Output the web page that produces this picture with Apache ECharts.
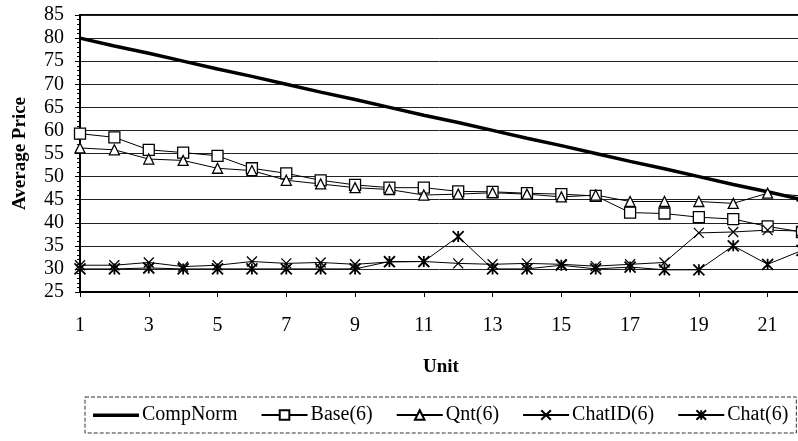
<!DOCTYPE html>
<html>
<head>
<meta charset="utf-8">
<script src="https://cdn.jsdelivr.net/npm/echarts@6/dist/echarts.min.js"></script>
<style>
html,body{margin:0;padding:0;background:#fff;}
#chart{width:798px;height:441px;}
</style>
</head>
<body>
<div id="chart"></div>
<script>
var units = ['1','2','3','4','5','6','7','8','9','10','11','12','13','14','15','16','17','18','19','20','21','22'];
var yTicks = [25, 85, 5]; // min, max, step
var compNorm = [80, 78.3, 76.7, 75, 73.3, 71.7, 70, 68.3, 66.7, 65, 63.3, 61.7, 60, 58.3, 56.7, 55, 53.3, 51.7, 50, 48.3, 46.7, 45];
var base6 = [59.3, 58.5, 55.8, 55.2, 54.5, 51.8, 50.7, 49.2, 48.2, 47.6, 47.6, 46.8, 46.7, 46.4, 46.2, 45.8, 42.2, 42, 41.2, 40.8, 39.2, 38];
var qnt6 = [56.2, 55.8, 53.8, 53.5, 51.8, 51.3, 49.2, 48.4, 47.6, 47.2, 46, 46.2, 46.5, 46.2, 45.6, 46, 44.6, 44.6, 44.6, 44.2, 46.4, 45.8];
var chatID6 = [30.8, 30.8, 31.4, 30.5, 30.8, 31.6, 31.2, 31.4, 31, 31.5, 31.6, 31.2, 31, 31.2, 31, 30.6, 31, 31.4, 37.8, 38, 38.4, 38.2];
var chat6 = [30, 30, 30.2, 30, 30, 30, 30, 30, 30, 31.6, 31.6, 37, 30, 30, 30.8, 30, 30.4, 29.8, 29.8, 35, 31, 34];
var seriesNames = ['CompNorm', 'Base(6)', 'Qnt(6)', 'ChatID(6)', 'Chat(6)'];

var FONT = "'Liberation Serif', 'Times New Roman', serif";
var chart = echarts.init(document.getElementById('chart'));

function markerSeries(name, data, symbol, size, bw) {
  return {
    name: name, type: 'line', data: data,
    symbol: symbol, symbolSize: size, showSymbol: true,
    lineStyle: { color: '#000', width: 1 },
    itemStyle: { color: '#fff', borderColor: '#000', borderWidth: bw },
    emphasis: { disabled: true },
    animation: false
  };
}

var thickLineIcon = 'path://M0,0L0.01,0L0.01,0.01L0,0.01Z M0,4.6L46,4.6L46,8L0,8Z M0,12L0.01,12L0.01,12.01L0,12.01Z';

chart.setOption({
  animation: false,
  backgroundColor: '#fff',
  textStyle: { fontFamily: FONT, color: '#000' },
  grid: {
    left: 80, right: -4, top: 15, bottom: 149,
    outerBoundsMode: 'none', containLabel: false,
    show: true, borderColor: '#000', borderWidth: 2, backgroundColor: 'transparent'
  },
  legend: {
    left: 85, top: 397,
    padding: [8, 8, 8, 8],
    itemWidth: 46, itemHeight: 12, itemGap: 23,
    borderColor: '#333', borderWidth: 1, borderType: 'dashed',
    textStyle: { fontFamily: FONT, fontSize: 20, color: '#000', padding: [0,0,0,-2] },
    data: [
      { name: seriesNames[0], icon: thickLineIcon },
      seriesNames[1], seriesNames[2], seriesNames[3], seriesNames[4]
    ]
  },
  xAxis: {
    type: 'category', data: units, boundaryGap: false,
    name: 'Unit', nameLocation: 'middle', nameGap: 66,
    nameTextStyle: { fontFamily: FONT, fontSize: 19, fontWeight: 'bold', color: '#000' },
    axisLine: { lineStyle: { color: '#000', width: 2 } },
    axisTick: { show: true, interval: 1, length: 5, inside: false, lineStyle: { color: '#000' } },
    axisLabel: { interval: 1, margin: 24, fontFamily: FONT, fontSize: 20, color: '#000' },
    splitLine: { show: false }
  },
  yAxis: {
    type: 'value', min: yTicks[0], max: yTicks[1], interval: yTicks[2],
    name: 'Average Price', nameLocation: 'middle', nameGap: 50, nameRotate: 90,
    nameTextStyle: { fontFamily: FONT, fontSize: 19, fontWeight: 'bold', color: '#000' },
    axisLine: { show: true, lineStyle: { color: '#000', width: 2 } },
    axisTick: { show: true, length: 5, lineStyle: { color: '#000' } },
    minorTick: { show: true, splitNumber: 5, length: 3, lineStyle: { color: '#000' } },
    axisLabel: { margin: 16, fontFamily: FONT, fontSize: 20, color: '#000' },
    splitLine: { show: true, lineStyle: { color: '#222', width: 1 } }
  },
  series: [
    {
      name: 'CompNorm', type: 'line', data: compNorm,
      showSymbol: false, symbol: 'none',
      lineStyle: { color: '#000', width: 3.5 },
      itemStyle: { color: '#000' },
      emphasis: { disabled: true }, z: 3
    },
    markerSeries('Base(6)', base6, 'rect', 11, 1.3),
    markerSeries('Qnt(6)', qnt6, 'triangle', 10, 1.3),
    markerSeries('ChatID(6)', chatID6, 'path://M0,0L10,10M10,0L0,10', 10, 1.3),
    markerSeries('Chat(6)', chat6, 'path://M0,0L10,10M10,0L0,10M5,0L5,10', 11, 1.8)
  ]
});
</script>
</body>
</html>
